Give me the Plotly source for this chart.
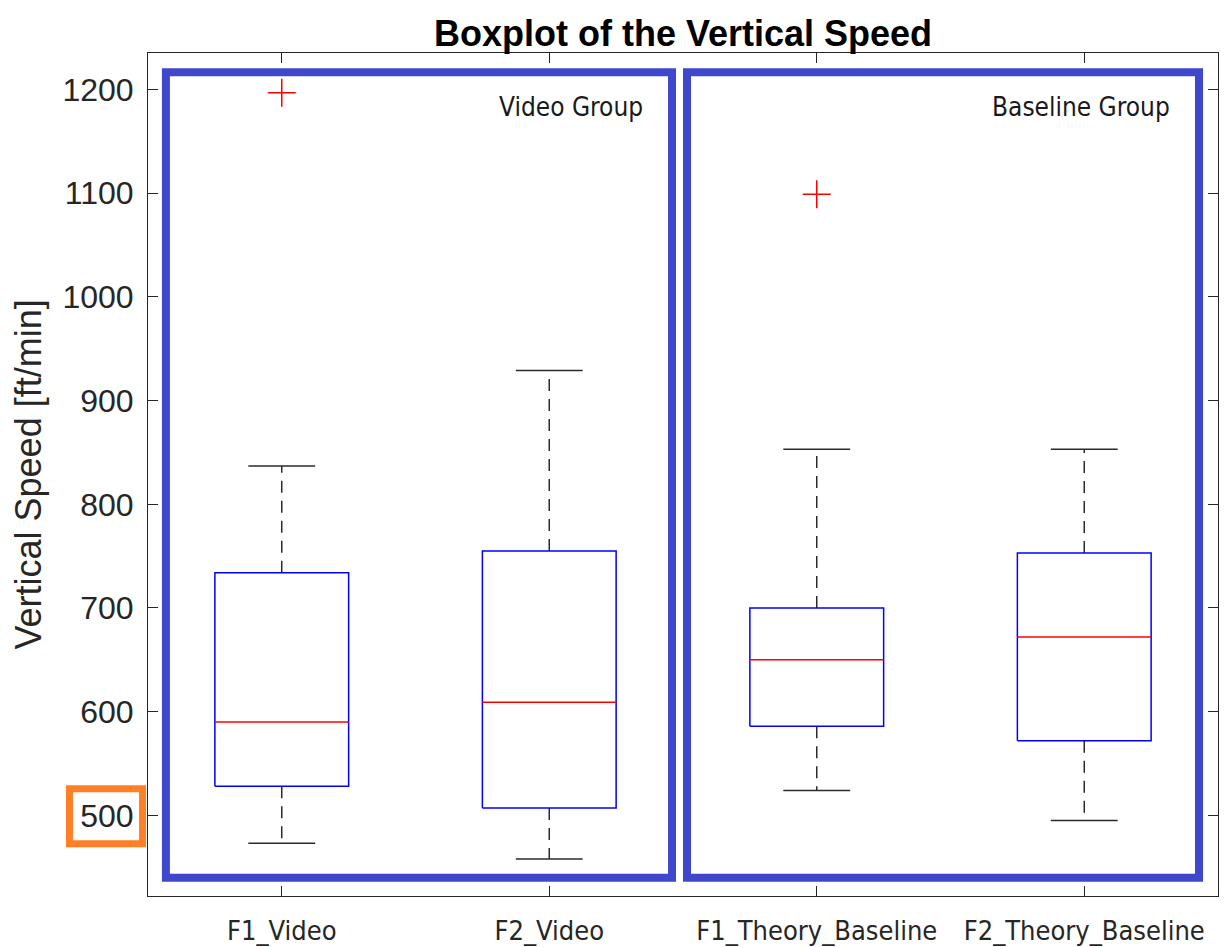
import plotly.graph_objects as go

# ---------------- data ----------------
categories = ["F1_Video", "F2_Video", "F1_Theory_Baseline", "F2_Theory_Baseline"]
lower_whisker = [473, 458, 524, 495]
q1_values = [528, 507, 586, 572]
median_values = [590, 609, 650, 672]
q3_values = [734, 755, 700, 753]
upper_whisker = [837, 929, 853, 853]
outlier_cat = [1, 3]
outlier_values = [1197, 1099]

y_ticks = [500, 600, 700, 800, 900, 1000, 1100, 1200]
group_labels = ["Video Group", "Baseline Group"]

# ---------------- style ----------------
BOX_HALF = 0.25
CAP_HALF = 0.125
BOX_COLOR = "rgb(0,0,255)"
MED_COLOR = "rgb(255,0,0)"
WHISK_COLOR = "#2b2b2b"
AX_COLOR = "#262626"
GROUP_COLOR = "#3F48CC"
ORANGE = "#FF7F27"
SANS = "Liberation Sans, Arial, Helvetica, sans-serif"
NARROW = "Liberation Sans Narrow, Arial Narrow, DejaVu Sans Condensed, sans-serif"

xpos = list(range(1, len(categories) + 1))

box_x, box_y = [], []
med_x, med_y = [], []
wh_x, wh_y = [], []
cap_x, cap_y = [], []
for i, lo, a, m, b, hi in zip(xpos, lower_whisker, q1_values, median_values, q3_values, upper_whisker):
    box_x += [i - BOX_HALF, i + BOX_HALF, i + BOX_HALF, i - BOX_HALF, i - BOX_HALF, None]
    box_y += [a, a, b, b, a, None]
    med_x += [i - BOX_HALF, i + BOX_HALF, None]
    med_y += [m, m, None]
    wh_x += [i, i, None, i, i, None]
    wh_y += [b, hi, None, a, lo, None]
    cap_x += [i - CAP_HALF, i + CAP_HALF, None, i - CAP_HALF, i + CAP_HALF, None]
    cap_y += [hi, hi, None, lo, lo, None]

fig = go.Figure()
fig.add_trace(go.Scatter(x=wh_x, y=wh_y, mode="lines",
                         line=dict(color=WHISK_COLOR, width=1.5, dash="12px,8px"),
                         hoverinfo="skip", showlegend=False))
fig.add_trace(go.Scatter(x=cap_x, y=cap_y, mode="lines",
                         line=dict(color=WHISK_COLOR, width=1.5),
                         hoverinfo="skip", showlegend=False))
fig.add_trace(go.Scatter(x=box_x, y=box_y, mode="lines",
                         line=dict(color=BOX_COLOR, width=1.5),
                         hoverinfo="skip", showlegend=False))
fig.add_trace(go.Scatter(x=med_x, y=med_y, mode="lines",
                         line=dict(color=MED_COLOR, width=1.5),
                         hoverinfo="skip", showlegend=False))
fig.add_trace(go.Scatter(x=outlier_cat, y=outlier_values, mode="markers",
                         marker=dict(symbol="cross-thin", size=20,
                                     line=dict(color=MED_COLOR, width=1.5)),
                         hoverinfo="skip", showlegend=False))

# group frames (decorative, in data units)
group_spans = [(0.567, 2.459), (2.515, 4.429)]
frame_y = (439.7, 1216.7)
for (x0, x1), label in zip(group_spans, group_labels):
    fig.add_shape(type="rect", xref="x", yref="y", x0=x0, x1=x1,
                  y0=frame_y[0], y1=frame_y[1],
                  line=dict(color=GROUP_COLOR, width=8), fillcolor="rgba(0,0,0,0)")
    fig.add_annotation(x=x1 - 0.1, y=1183, xref="x", yref="y",
                       text=label, showarrow=False, xanchor="right", yanchor="middle",
                       font=dict(family=NARROW, size=26, color="#1a1a1a"))

# orange highlight around the 500 tick label
fig.add_shape(type="rect", xref="paper", yref="y", x0=-0.0734, x1=-0.0051,
              y0=472.5, y1=525.6, line=dict(color=ORANGE, width=7),
              fillcolor="rgba(0,0,0,0)")

# y-axis label
fig.add_annotation(x=(28 - 148) / 1070, y=0.5, xref="paper", yref="paper",
                   text="Vertical Speed [ft/min]", textangle=-90, showarrow=False,
                   xanchor="center", yanchor="middle",
                   font=dict(family=SANS, size=36, color=AX_COLOR))

fig.update_layout(
    width=1224, height=947,
    margin=dict(l=148, r=6, t=53, b=51, autoexpand=False),
    paper_bgcolor="white", plot_bgcolor="white",
    title=dict(text="<b>Boxplot of the Vertical Speed</b>", x=(683) / 1224, xanchor="center",
               y=1 - 33 / 947, yanchor="middle", yref="container",
               font=dict(family=SANS, size=36, color="black")),
    xaxis=dict(range=[0.5, 4.5], tickvals=xpos, ticktext=categories, tickangle=0,
               showline=True, mirror="ticks", linecolor=AX_COLOR, linewidth=1,
               ticks="inside", ticklen=10, tickcolor=AX_COLOR, tickwidth=1,
               showgrid=False, zeroline=False, ticklabelstandoff=11,
               tickfont=dict(family=NARROW, size=27, color=AX_COLOR)),
    yaxis=dict(range=[422.2, 1235.3], tickvals=y_ticks,
               showline=True, mirror="ticks", linecolor=AX_COLOR, linewidth=1,
               ticks="inside", ticklen=10, tickcolor=AX_COLOR, tickwidth=1,
               showgrid=False, zeroline=False, ticklabelstandoff=7,
               tickfont=dict(family=SANS, size=32, color=AX_COLOR)),
)

fig.write_html("out.html")
